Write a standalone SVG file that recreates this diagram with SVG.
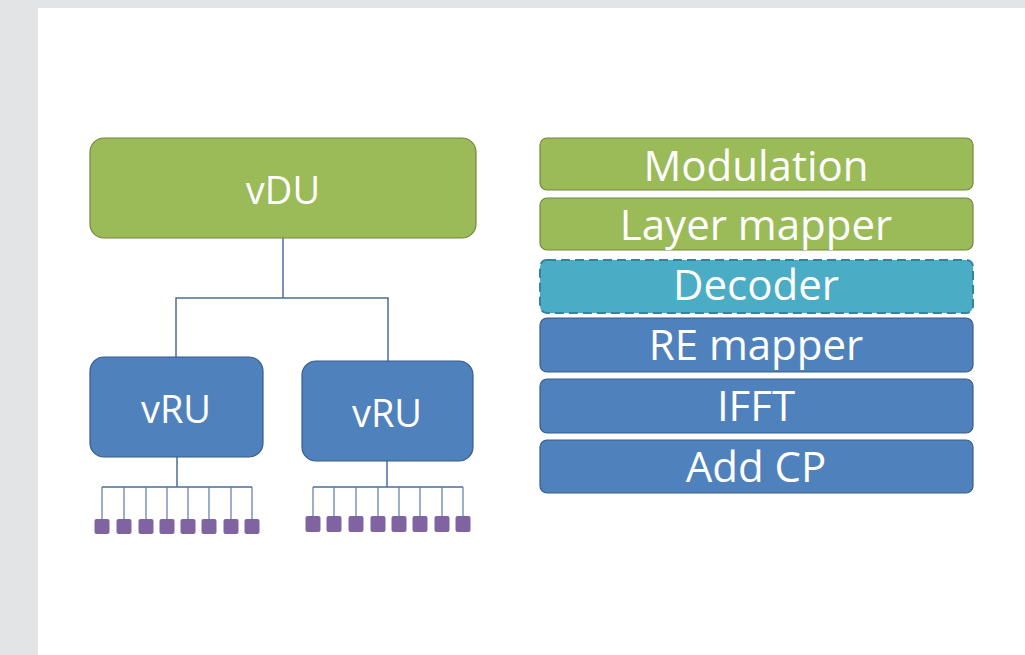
<svg xmlns="http://www.w3.org/2000/svg" width="1025" height="655" viewBox="0 0 1025 655">
<style>
.g{fill:#9bbb59;stroke:#71893f;stroke-width:1.2}
.b{fill:#4f81bd;stroke:#385d8a;stroke-width:1.2}
.d{fill:#4bacc6;stroke:#31849b;stroke-width:2;stroke-dasharray:9 5}
.ant{fill:#8064a2;stroke:none}
.t{fill:#ffffff;font-family:"Open Sans","Liberation Sans",sans-serif;text-anchor:middle}
.c{stroke:#4a6c9e;stroke-width:1.5;fill:none}
.cl{stroke:#5a7bab;stroke-width:1.2;fill:none}
</style>
<rect x="0" y="0" width="1025" height="655" fill="#e3e4e6"/>
<rect x="38" y="8" width="987" height="647" fill="#ffffff"/>
<g id="connectors">
<path class="c" d="M283 238 V298 M176 357 V298 H388 V361"/>
<path class="c" d="M177 457 V487 M102 487 H252"/>
<path class="cl" d="M102 487 V520 M124 487 V520 M146 487 V520 M167 487 V520 M188 487 V520 M209 487 V520 M231 487 V520 M252 487 V520"/>
<path class="c" d="M387 461 V487 M313 487 H463"/>
<path class="cl" d="M313 487 V516 M334 487 V516 M356 487 V516 M378 487 V516 M399 487 V516 M420 487 V516 M442 487 V516 M463 487 V516"/>
</g>
<g id="vDU"><rect class="g" x="90" y="138" width="386" height="100" rx="14"/><text class="t" x="283" y="204" font-size="38">vDU</text></g>
<g id="vRU1"><rect class="b" x="90" y="357" width="173" height="100" rx="14"/><text class="t" x="176" y="423" font-size="38">vRU</text></g>
<g id="vRU2"><rect class="b" x="302" y="361" width="171" height="100" rx="14"/><text class="t" x="387" y="427" font-size="38">vRU</text></g>
<g id="antennas1">
<rect class="ant" x="94.5" y="519" width="15" height="15" rx="2"/>
<rect class="ant" x="116.5" y="519" width="15" height="15" rx="2"/>
<rect class="ant" x="138.5" y="519" width="15" height="15" rx="2"/>
<rect class="ant" x="159.5" y="519" width="15" height="15" rx="2"/>
<rect class="ant" x="180.5" y="519" width="15" height="15" rx="2"/>
<rect class="ant" x="201.5" y="519" width="15" height="15" rx="2"/>
<rect class="ant" x="223.5" y="519" width="15" height="15" rx="2"/>
<rect class="ant" x="244.5" y="519" width="15" height="15" rx="2"/>
</g>
<g id="antennas2">
<rect class="ant" x="305.5" y="516" width="15" height="16" rx="2"/>
<rect class="ant" x="326.5" y="516" width="15" height="16" rx="2"/>
<rect class="ant" x="348.5" y="516" width="15" height="16" rx="2"/>
<rect class="ant" x="370.5" y="516" width="15" height="16" rx="2"/>
<rect class="ant" x="391.5" y="516" width="15" height="16" rx="2"/>
<rect class="ant" x="412.5" y="516" width="15" height="16" rx="2"/>
<rect class="ant" x="434.5" y="516" width="15" height="16" rx="2"/>
<rect class="ant" x="455.5" y="516" width="15" height="16" rx="2"/>
</g>
<g id="modulation"><rect class="g" x="540" y="138" width="433" height="52" rx="7"/><text class="t" x="756" y="181" font-size="42">Modulation</text></g>
<g id="layer-mapper"><rect class="g" x="540" y="198" width="433" height="52" rx="7"/><text class="t" x="756" y="240" font-size="42">Layer mapper</text></g>
<g id="decoder"><rect class="d" x="540" y="260" width="433" height="53" rx="7"/><text class="t" x="756" y="300" font-size="42">Decoder</text></g>
<g id="re-mapper"><rect class="b" x="540" y="318" width="433" height="54" rx="7"/><text class="t" x="756" y="360" font-size="42">RE mapper</text></g>
<g id="ifft"><rect class="b" x="540" y="379" width="433" height="54" rx="7"/><text class="t" x="756" y="421" font-size="42">IFFT</text></g>
<g id="add-cp"><rect class="b" x="540" y="440" width="433" height="53" rx="7"/><text class="t" x="756" y="482" font-size="42">Add CP</text></g>
</svg>
